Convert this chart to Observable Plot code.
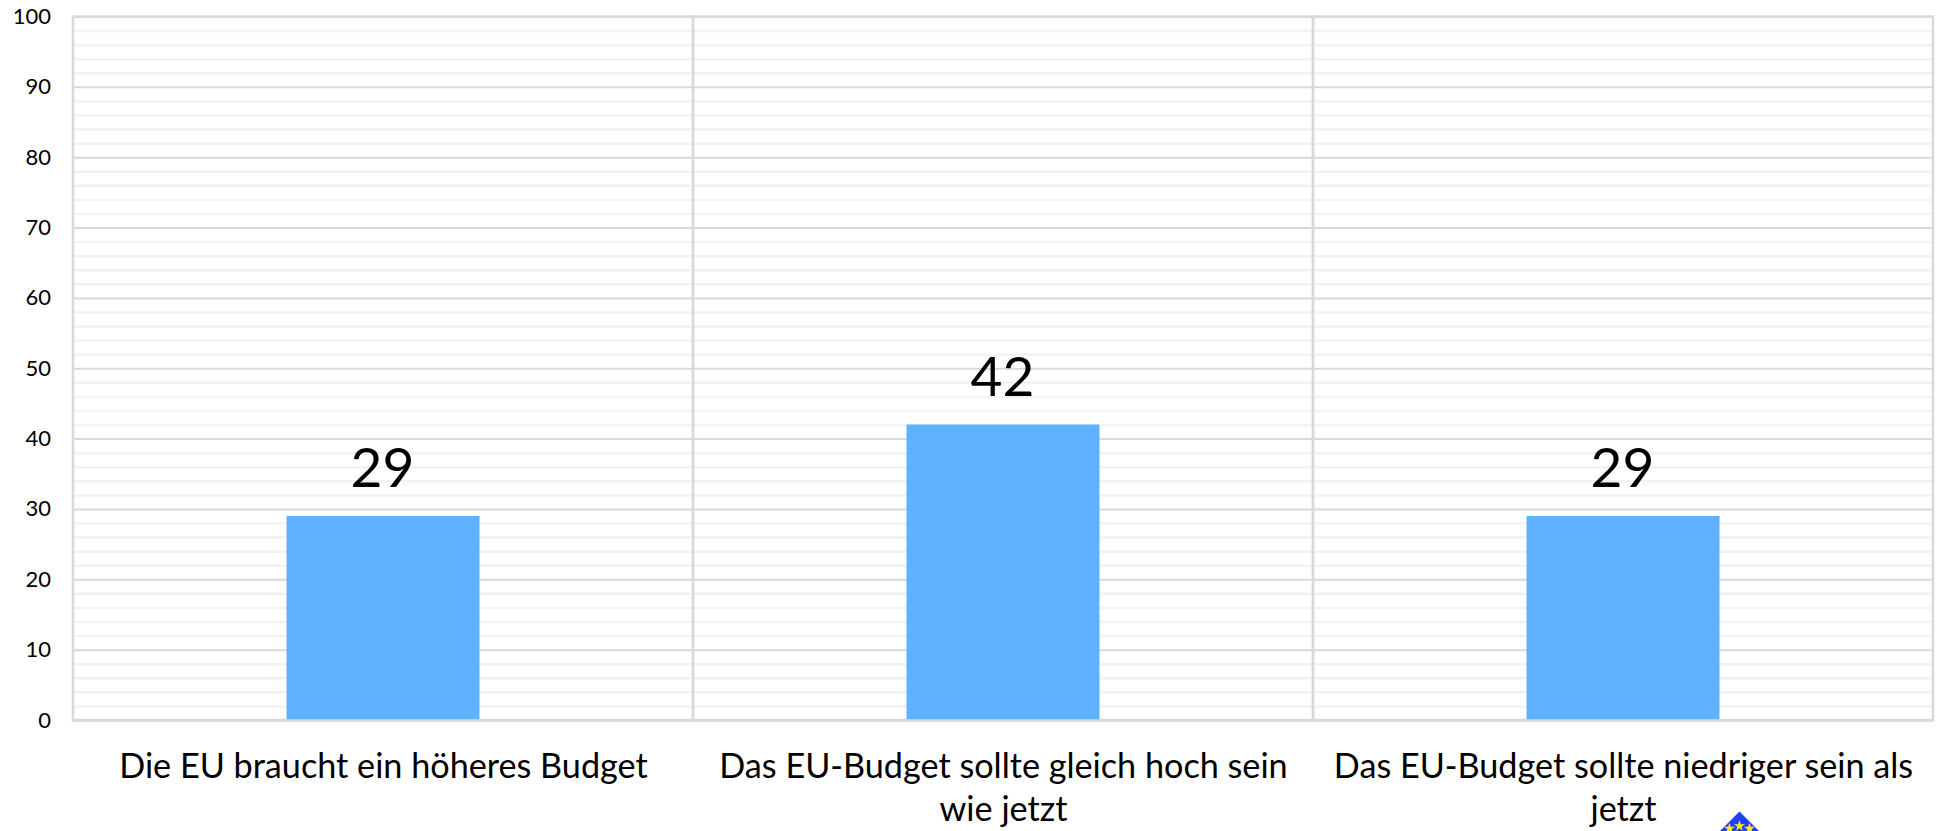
<!DOCTYPE html>
<html><head><meta charset="utf-8">
<script src="https://cdn.jsdelivr.net/npm/d3@7"></script>
<script src="https://cdn.jsdelivr.net/npm/@observablehq/plot@0.6"></script>
<style>
html,body{margin:0;padding:0;background:#fff;overflow:hidden}
#chart{position:relative;width:1939px;height:831px}
#chart:before{content:"";position:absolute;left:7.5px;top:0;bottom:0;width:2.5px;background:#d9d9d9}
svg{display:block;position:absolute;left:0;top:0}
</style></head><body><div id="chart"></div>
<script>
const categories = ["Die EU braucht ein höheres Budget","Das EU-Budget sollte gleich hoch sein\nwie jetzt","Das EU-Budget sollte niedriger sein als\njetzt"];
const values = [29,42,29];
const majorTicks = [0,10,20,30,40,50,60,70,80,90,100];
const minorTicks = d3.range(0,101,2).filter(d=>d%10!==0);
const rows = categories.map((c,i)=>({c,v:values[i]}));
const font = "Lato, 'Open Sans', sans-serif";
const gridMinor="#f2f2f2", gridMajor="#d9d9d9", barColor="#5eb2ff", blue="#1f3fff", yellow="#ffee00";
const logoStars=[[-204,108],[-194,105.5],[-184,108]];
const plot = Plot.plot({
  width:1939,height:831,
  marginLeft:72.5,marginRight:6,marginTop:16.5,marginBottom:111,
  style:{fontFamily:font,background:"#fff",color:"#000"},
  x:{domain:categories,padding:0,label:null},
  y:{domain:[0,100],label:null},
  marks:[
    Plot.ruleY(minorTicks,{stroke:gridMinor,strokeWidth:2.5}),
    Plot.ruleY(majorTicks,{stroke:gridMajor,strokeWidth:2}),
    Plot.cell(categories,{x:d=>d,fill:"none",stroke:gridMajor,strokeWidth:2.5}),
    Plot.barY(rows,{x:"c",y:"v",fill:barColor,insetLeft:213.5,insetRight:213.5}),
    Plot.ruleY([0],{stroke:gridMajor,strokeWidth:2.5}),
    Plot.text(rows,{x:"c",y:"v",text:d=>String(d.v),dy:-47,dx:-1,fontSize:55,fill:"#000"}),
    Plot.axisY({ticks:majorTicks,tickSize:0,tickPadding:22,fontSize:22,label:null,fill:"#000"}),
    Plot.axisX({tickSize:0,tickPadding:27,fontSize:34.2,lineHeight:1.26,label:null,fill:"#000",textAnchor:"middle",lineAnchor:"top"}),
    Plot.dot([0],{frameAnchor:"bottom-right",dx:-194,dy:131,symbol:"diamond2",r:36,fill:blue}),
    ...logoStars.map(([dx,dy])=>Plot.dot([0],{frameAnchor:"bottom-right",dx,dy,symbol:"star",r:3.5,fill:yellow})),
  ]
});
document.getElementById("chart").appendChild(plot);
</script></body></html>
